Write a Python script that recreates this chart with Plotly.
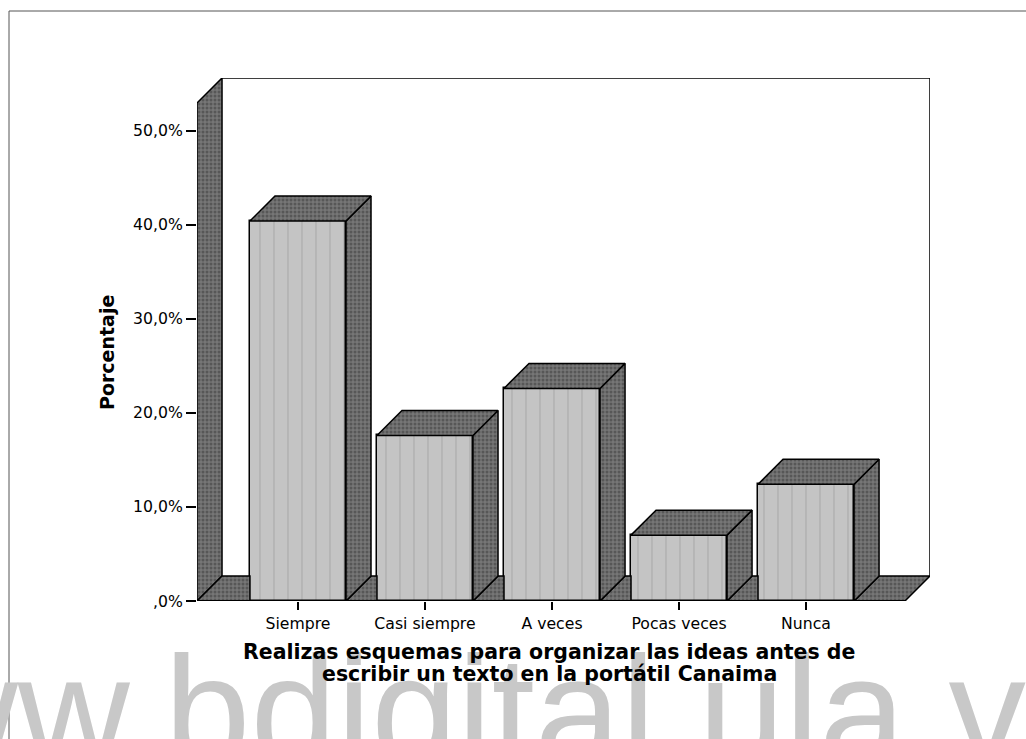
import plotly.graph_objects as go

# ---------------- data ----------------
categories = ["Siempre", "Casi siempre", "A veces", "Pocas veces", "Nunca"]
percent = [40.4, 17.6, 22.6, 7.0, 12.4]
y_tick_values = [0, 10, 20, 30, 40, 50]
y_tick_labels = [",0%", "10,0%", "20,0%", "30,0%", "40,0%", "50,0%"]

x_title_lines = ["Realizas esquemas para organizar las ideas antes de",
                 "escribir un texto en la portátil Canaima"]
y_title = "Porcentaje"
watermark = "www.bdigital.ula.ve"

# ---------------- style / geometry ----------------
W, H = 1026, 739
ML, MR, MT, MB = 197, 96, 78, 138
PW, PH = W - ML - MR, H - MT - MB

BAR_W = 0.756          # bar width in category units
DX = 0.197             # 3-D depth offset, x (category units)
DY = 2.66              # 3-D depth offset, y (percent units)
X_LO, X_HI = -0.795, 4.976
Y_HI = 55.6
WALL_TOP = Y_HI - DY

FRONT = "#c4c4c4"
DARK_BG = "#767676"
DARK_FG = "#383838"
EDGE = dict(color="black", width=1.5)
FONT = "DejaVu Sans"


def px_x(px):
    return (px - ML) / PW


def px_y(py):
    return (H - MB - py) / PH


dark_pattern = dict(shape=".", fgcolor=DARK_FG, bgcolor=DARK_BG, size=4, solidity=0.45)

fig = go.Figure()
xs = list(range(len(categories)))


def polygon(px_, py_, pattern=dark_pattern, color=DARK_BG, line=EDGE):
    fig.add_trace(go.Scatter(
        x=px_ + [px_[0]], y=py_ + [py_[0]], mode="lines", fill="toself",
        fillcolor=color, fillpattern=pattern, line=line,
        hoverinfo="skip", showlegend=False))


# front faces of the bars
fig.add_trace(go.Bar(
    x=xs, y=percent, width=BAR_W,
    marker=dict(color=FRONT, line=EDGE,
                pattern=dict(shape="|", fgcolor="#888888", bgcolor=FRONT,
                             size=14, solidity=0.07)),
    hoverinfo="skip", showlegend=False))

# left wall
polygon([X_LO, X_LO, X_LO + DX, X_LO + DX], [0, WALL_TOP, Y_HI, DY])

# back wall outline
fig.add_trace(go.Scatter(
    x=[X_LO + DX, X_HI, X_HI], y=[Y_HI, Y_HI, DY], mode="lines",
    line=EDGE, hoverinfo="skip", showlegend=False))

# floor pieces (visible between bars)
lefts = [X_LO] + [i + BAR_W / 2 for i in xs]
rights = [i - BAR_W / 2 for i in xs] + [X_HI - DX]
for k, (a, b) in enumerate(zip(lefts, rights)):
    last = k == len(lefts) - 1
    polygon([a, b, b + (DX if last else 0), a + DX], [0, 0, DY, DY])

# top and side faces of the bars
for i, v in zip(xs, percent):
    l, r = i - BAR_W / 2, i + BAR_W / 2
    polygon([r, r, r + DX, r + DX], [0, v, v + DY, DY])
    polygon([l, r, r + DX, l + DX], [v, v, v + DY, v + DY])

# front floor edge
fig.add_trace(go.Scatter(
    x=[X_LO, X_HI - DX], y=[0, 0], mode="lines", line=dict(color="black", width=2),
    hoverinfo="skip", showlegend=False))

annotations = [
    dict(text=watermark, xref="paper", yref="paper", x=px_x(-209), y=px_y(623),
         xanchor="left", yanchor="top", showarrow=False,
         font=dict(family="Liberation Sans", size=155, color="#c8c8c8")),
    dict(text=y_title, xref="paper", yref="paper", x=px_x(107), y=px_y(353),
         xanchor="center", yanchor="middle", textangle=-90, showarrow=False,
         font=dict(family=FONT, size=19, color="black", weight="bold")),
]
for j, line in enumerate(x_title_lines):
    annotations.append(dict(
        text=line, xref="paper", yref="paper", x=px_x(549), y=px_y(652 + 22 * j),
        xanchor="center", yanchor="middle", showarrow=False,
        font=dict(family=FONT, size=20.5, color="black", weight="bold")))

fig.update_layout(
    width=W, height=H,
    margin=dict(l=ML, r=MR, t=MT, b=MB, pad=0),
    paper_bgcolor="white", plot_bgcolor="white",
    showlegend=False, bargap=0,
    xaxis=dict(range=[X_LO, X_HI], tickmode="array", tickvals=xs, ticktext=categories,
               ticks="outside", ticklen=8, tickwidth=1.5, tickcolor="black",
               showgrid=False, zeroline=False, showline=False, fixedrange=True,
               tickfont=dict(family=FONT, size=15.7, color="black")),
    yaxis=dict(range=[0, Y_HI], tickmode="array", tickvals=y_tick_values, ticktext=y_tick_labels,
               ticks="outside", ticklen=10, tickwidth=1.5, tickcolor="black",
               showgrid=False, zeroline=False, showline=False, fixedrange=True,
               tickfont=dict(family=FONT, size=15.7, color="black")),
    annotations=annotations,
    shapes=[dict(type="path", xref="paper", yref="paper",
                 path=f"M {px_x(9)} {px_y(745)} L {px_x(9)} {px_y(11)} L {px_x(1040)} {px_y(11)}",
                 line=dict(color="#555555", width=1), layer="above")],
)

fig.write_html("out.html", include_plotlyjs=True, config={"displayModeBar": False},
               post_script="document.body.style.margin='0';document.body.style.overflow='hidden';")
